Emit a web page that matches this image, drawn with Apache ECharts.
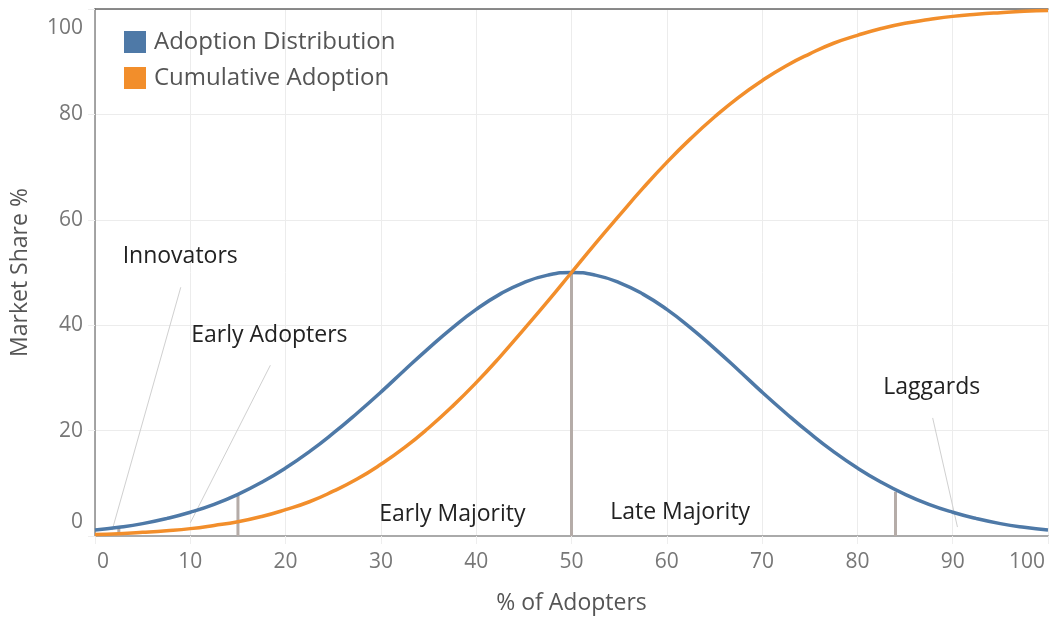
<!DOCTYPE html>
<html><head><meta charset="utf-8">
<script src="https://cdn.jsdelivr.net/npm/echarts@6/dist/echarts.min.js"></script>
<style>html,body{margin:0;padding:0;background:#fff}#c{width:1049px;height:617px}</style>
</head><body><div id="c"></div>
<script>
const xValues = [0,2.5,5,7.5,10,12.5,15,17.5,20,22.5,25,27.5,30,32.5,35,37.5,40,42.5,45,47.5,50,52.5,55,57.5,60,62.5,65,67.5,70,72.5,75,77.5,80,82.5,85,87.5,90,92.5,95,97.5,100];
const adoptionDistribution = [1.15,1.66,2.35,3.3,4.5,6.0,7.9,10.2,12.9,16.0,19.5,23.3,27.3,31.5,35.6,39.5,43.0,45.9,48.1,49.5,50,49.5,48.1,45.9,43.0,39.5,35.6,31.5,27.3,23.3,19.5,16.0,12.9,10.2,7.9,6.0,4.5,3.3,2.35,1.66,1.15];
const cumulativeAdoption = [0.3,0.45,0.7,1.0,1.4,2.0,2.7,3.7,5.0,6.5,8.5,10.8,13.6,16.8,20.5,24.6,29.1,34.0,39.2,44.5,50,55.5,60.8,66.0,70.9,75.4,79.5,83.2,86.4,89.2,91.5,93.5,95.0,96.3,97.3,98.0,98.6,99.0,99.3,99.55,99.7];
const seriesNames = ['Adoption Distribution','Cumulative Adoption'];
const segmentBoundaries = [2.5,15,50,84];
const boundaryHeights = [1.7,7.9,50,8.4];
const segmentNames = ['Innovators','Early Adopters','Early Majority','Late Majority','Laggards'];
const labelAnchors = [[2.9,53.1,'left'],[10.1,38.1,'left'],[37.5,4.0,'center'],[61.4,4.4,'center'],[87.8,28.1,'center']];
const leaderLines = [[9.0,47.2,1.8,1.1],[18.4,32.4,10.0,2.5],[87.9,22.4,90.5,1.7]];

const FONT = '"Open Sans", sans-serif';
const chart = echarts.init(document.getElementById('c'), null, {renderer:'canvas'});

chart.setOption({
  animation:false,
  backgroundColor:'#fff',
  grid:{left:95,right:1,top:9,bottom:81,outerBoundsMode:'none',containLabel:false},
  legend:{
    data:seriesNames, orient:'vertical', left:124, top:30, padding:0, icon:'rect',
    itemWidth:22, itemHeight:22, itemGap:12,
    textStyle:{fontFamily:FONT,fontSize:24,color:'#555',padding:[0,0,0,3]}
  },
  xAxis:[{
    type:'value', min:0, max:100, interval:10,
    name:'% of Adopters', nameLocation:'middle', nameGap:56,
    nameTextStyle:{fontFamily:FONT,fontSize:23,color:'#555'},
    axisLine:{show:true,onZero:false,lineStyle:{color:'#aaa',width:2}},
    axisTick:{show:true,length:8,lineStyle:{color:'#eee'}},
    splitLine:{show:true,lineStyle:{color:'#ececec',width:1}},
    axisLabel:{
      show:true, showMinLabel:true, showMaxLabel:true, margin:16,
      fontFamily:FONT,fontSize:21,color:'#777',
      formatter:function(v){ if(v===0) return '{lo|0}'; if(v===100) return '{hi|100}'; return String(v); },
      rich:{lo:{fontFamily:FONT,fontSize:21,color:'#777',padding:[0,0,0,16]},hi:{fontFamily:FONT,fontSize:21,color:'#777',padding:[0,42,0,0]}}
    }
  },{
    type:'value', position:'top', min:0, max:100,
    axisLine:{show:true,onZero:false,lineStyle:{color:'#666',width:1.5}},
    axisTick:{show:false}, axisLabel:{show:false}, splitLine:{show:false}
  }],
  yAxis:{
    type:'value', min:0, max:100, interval:20,
    name:'Market Share %', nameLocation:'middle', nameGap:63, nameRotate:90,
    nameTextStyle:{fontFamily:FONT,fontSize:23,color:'#555'},
    axisLine:{show:true,onZero:false,lineStyle:{color:'#888',width:1.5}},
    axisTick:{show:true,length:7,lineStyle:{color:'#eee'}},
    splitLine:{show:true,lineStyle:{color:'#ececec',width:1}},
    axisLabel:{
      show:true, showMinLabel:true, showMaxLabel:true, margin:12,
      fontFamily:FONT,fontSize:21,color:'#777',
      formatter:function(v){ if(v===0) return '{lo|0}'; if(v===100) return '{hi|100}'; return String(v); },
      rich:{lo:{fontFamily:FONT,fontSize:21,color:'#777',padding:[0,0,28,0]},hi:{fontFamily:FONT,fontSize:21,color:'#777',padding:[38,0,0,0]}}
    }
  },
  series:[
    {
      type:'custom', name:'boundaries', z:1, silent:true,
      encode:{x:0,y:1},
      data:segmentBoundaries.map((b,i)=>[b,boundaryHeights[i]]),
      renderItem:function(params,api){
        const p0 = api.coord([api.value(0),0]);
        const p1 = api.coord([api.value(0),api.value(1)]);
        return {type:'line',shape:{x1:p0[0],y1:p0[1],x2:p1[0],y2:p1[1]},style:{stroke:'#b5aca8',lineWidth:3}};
      }
    },
    {
      type:'custom', name:'leaders', z:1, silent:true,
      encode:{x:[0,2],y:[1,3]},
      data:leaderLines,
      renderItem:function(params,api){
        const p0 = api.coord([api.value(0),api.value(1)]);
        const p1 = api.coord([api.value(2),api.value(3)]);
        return {type:'line',shape:{x1:p0[0],y1:p0[1],x2:p1[0],y2:p1[1]},style:{stroke:'#d0d0d0',lineWidth:1}};
      }
    },
    {
      name:seriesNames[0], type:'line', z:3, smooth:true, showSymbol:false, symbol:'none',
      color:'#4e79a7', lineStyle:{color:'#4e79a7',width:3.5}, itemStyle:{color:'#4e79a7'},
      data:xValues.map((x,i)=>[x,adoptionDistribution[i]])
    },
    {
      name:seriesNames[1], type:'line', z:4, smooth:true, showSymbol:false, symbol:'none',
      color:'#f28e2b', lineStyle:{color:'#f28e2b',width:3.5}, itemStyle:{color:'#f28e2b'},
      data:xValues.map((x,i)=>[x,cumulativeAdoption[i]])
    },
    {
      type:'custom', name:'segment labels', z:5, silent:true,
      encode:{x:0,y:1},
      data:labelAnchors.map((a,i)=>[a[0],a[1],i]),
      renderItem:function(params,api){
        const i = api.value(2);
        const p = api.coord([api.value(0),api.value(1)]);
        return {type:'text',x:p[0],y:p[1],style:{text:segmentNames[i],fill:'#222',font:'23px '+FONT,align:labelAnchors[i][2],verticalAlign:'middle'}};
      }
    }
  ]
});
</script></body></html>
